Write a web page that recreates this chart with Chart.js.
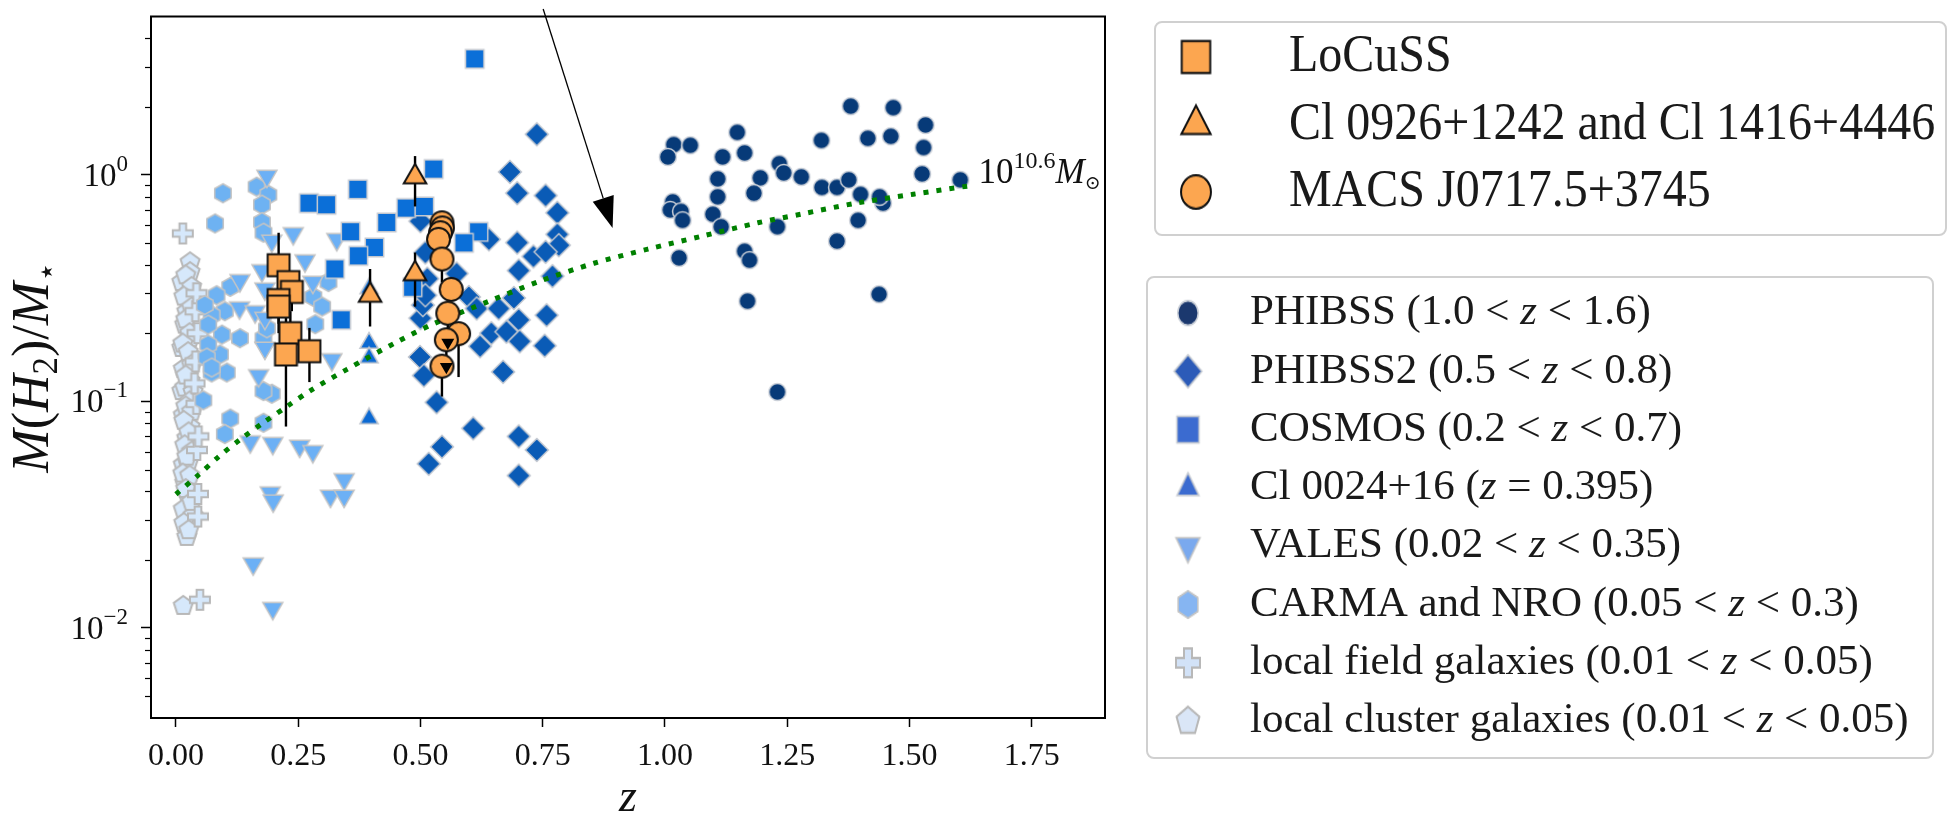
<!DOCTYPE html>
<html lang="en">
<head>
<meta charset="utf-8">
<title>Molecular gas fraction versus redshift</title>
<script src="https://cdn.jsdelivr.net/npm/chart.js"></script>
<style>
  html, body { margin: 0; padding: 0; background: #ffffff; }
  canvas { display: block; }
</style>
</head>
<body>
<canvas id="gas-fraction" width="1953" height="816"></canvas>
<script>
const SERIF = '"Liberation Serif", "DejaVu Serif", serif';

// axis limits and tick positions
const zRange = [-0.051, 1.9];
const fracRange = [0.004, 5];
const zTicks = [0, 0.25, 0.5, 0.75, 1.0, 1.25, 1.5, 1.75];
const fracMajorTicks = [0.01, 0.1, 1];
const fracMinorTicks = [0.005, 0.006, 0.007, 0.008, 0.009,
  0.02, 0.03, 0.04, 0.05, 0.06, 0.07, 0.08, 0.09,
  0.2, 0.3, 0.4, 0.5, 0.6, 0.7, 0.8, 0.9, 2, 3, 4];

// comparison samples, [z, M(H2)/M*]
const phibss = [
  [1.018, 1.36], [1.052, 1.35], [1.006, 1.20], [1.148, 1.54], [1.118, 1.20], [1.163, 1.25],
  [1.108, 0.96], [1.195, 0.97], [1.234, 1.12], [1.243, 1.02], [1.182, 0.83], [1.108, 0.80],
  [1.016, 0.76], [1.011, 0.70], [1.033, 0.69], [1.036, 0.63], [1.098, 0.67], [1.115, 0.59],
  [1.230, 0.59], [1.029, 0.43], [1.163, 0.46], [1.173, 0.42], [1.279, 0.98], [1.380, 2.01],
  [1.467, 1.98], [1.533, 1.66], [1.320, 1.42], [1.415, 1.45], [1.462, 1.48], [1.529, 1.32],
  [1.526, 1.01], [1.604, 0.95], [1.321, 0.88], [1.352, 0.88], [1.376, 0.95], [1.400, 0.82],
  [1.446, 0.75], [1.439, 0.80], [1.395, 0.63], [1.352, 0.51], [1.438, 0.297], [1.169, 0.277],
  [1.230, 0.110]
];
const phibss2 = [
  [0.738, 1.51], [0.683, 1.03], [0.698, 0.83], [0.756, 0.81], [0.780, 0.68], [0.780, 0.546],
  [0.783, 0.489], [0.698, 0.502], [0.731, 0.436], [0.756, 0.457], [0.701, 0.378], [0.770, 0.357],
  [0.640, 0.519], [0.500, 0.624], [0.574, 0.367], [0.514, 0.348], [0.599, 0.289], [0.615, 0.257],
  [0.691, 0.286], [0.660, 0.257], [0.701, 0.229], [0.758, 0.240], [0.500, 0.233], [0.645, 0.200],
  [0.622, 0.175], [0.676, 0.203], [0.703, 0.184], [0.754, 0.176], [0.499, 0.157], [0.507, 0.130],
  [0.669, 0.135], [0.533, 0.099], [0.608, 0.076], [0.544, 0.063], [0.517, 0.053], [0.701, 0.070],
  [0.738, 0.061], [0.701, 0.047], [0.505, 0.266], [0.510, 0.294], [0.510, 0.454]
];
const cosmos = [
  [0.611, 3.25], [0.527, 1.06], [0.372, 0.863], [0.272, 0.750], [0.308, 0.738], [0.471, 0.713],
  [0.508, 0.725], [0.431, 0.616], [0.357, 0.561], [0.406, 0.478], [0.373, 0.439], [0.325, 0.384],
  [0.619, 0.560], [0.589, 0.501], [0.338, 0.229], [0.484, 0.319]
];
const cl0024 = [[0.395, 0.315], [0.395, 0.181], [0.395, 0.156], [0.395, 0.084]];
const vales = [
  [0.186, 0.987], [0.240, 0.551], [0.329, 0.519], [0.196, 0.511], [0.264, 0.418], [0.176, 0.378],
  [0.131, 0.342], [0.182, 0.314], [0.280, 0.336], [0.130, 0.259], [0.162, 0.249], [0.182, 0.233],
  [0.319, 0.153], [0.169, 0.130], [0.182, 0.172], [0.152, 0.0664], [0.198, 0.0653], [0.253, 0.0635],
  [0.280, 0.0601], [0.344, 0.0452], [0.316, 0.0382], [0.344, 0.0382], [0.193, 0.0395], [0.199, 0.0364],
  [0.158, 0.0192], [0.198, 0.0122]
];
const carmaNro = [
  [0.096, 0.829], [0.165, 0.886], [0.189, 0.816], [0.176, 0.738], [0.080, 0.610], [0.176, 0.618],
  [0.179, 0.555], [0.111, 0.320], [0.083, 0.294], [0.312, 0.336], [0.281, 0.289], [0.299, 0.262],
  [0.285, 0.219], [0.100, 0.250], [0.073, 0.240], [0.131, 0.190], [0.094, 0.197], [0.090, 0.161],
  [0.104, 0.134], [0.073, 0.134], [0.179, 0.190], [0.186, 0.210], [0.196, 0.108], [0.179, 0.111],
  [0.111, 0.0839], [0.100, 0.0717], [0.179, 0.0804], [0.056, 0.101], [0.066, 0.178], [0.059, 0.266],
  [0.066, 0.218], [0.063, 0.156], [0.073, 0.141]
];
const fieldGalaxies = [
  [0.014, 0.551], [0.049, 0.0133], [0.045, 0.039], [0.045, 0.031], [0.043, 0.061], [0.042, 0.0975],
  [0.040, 0.15], [0.044, 0.20], [0.040, 0.25], [0.042, 0.30], [0.038, 0.12], [0.046, 0.07]
];
const clusterGalaxies = [
  [0.029, 0.411], [0.029, 0.372], [0.012, 0.336], [0.029, 0.304], [0.025, 0.275], [0.022, 0.249],
  [0.018, 0.218], [0.029, 0.190], [0.012, 0.172], [0.035, 0.156], [0.015, 0.139], [0.029, 0.123],
  [0.012, 0.111], [0.018, 0.115], [0.035, 0.110], [0.015, 0.0868], [0.029, 0.0772], [0.022, 0.0687],
  [0.015, 0.0525], [0.025, 0.0534], [0.018, 0.0437], [0.025, 0.0383], [0.015, 0.0334], [0.035, 0.0313],
  [0.022, 0.0252], [0.015, 0.0125], [0.020, 0.36], [0.032, 0.32], [0.016, 0.29], [0.032, 0.26],
  [0.020, 0.23], [0.028, 0.20], [0.014, 0.18], [0.025, 0.165], [0.032, 0.145], [0.020, 0.13],
  [0.028, 0.10], [0.020, 0.095], [0.032, 0.09], [0.016, 0.082], [0.026, 0.073], [0.018, 0.064],
  [0.032, 0.060], [0.022, 0.057], [0.014, 0.048], [0.028, 0.047], [0.020, 0.041], [0.032, 0.036],
  [0.016, 0.029], [0.026, 0.027]
];

// cluster members, with [low, high] error bars
const locuss = [
  [0.210, 0.399], [0.230, 0.336], [0.237, 0.304], [0.210, 0.280],
  [0.210, 0.262], [0.234, 0.200], [0.225, 0.161], [0.273, 0.1665]
];
const locussErr = [
  [0.245, 0.555], [0.26, 0.41], [0.25, 0.36], [0.22, 0.34],
  [0.20, 0.32], [0.15, 0.25], [0.0774, 0.245], [0.1216, 0.211]
];
const cl0926 = [[0.489, 0.98], [0.489, 0.366], [0.397, 0.294]];
const cl0926Err = [[0.725, 1.21], [0.262, 0.454], [0.214, 0.384]];
const macs = [
  [0.544, 0.614], [0.545, 0.583], [0.541, 0.555], [0.537, 0.519], [0.544, 0.425],
  [0.563, 0.312], [0.556, 0.245], [0.578, 0.199], [0.553, 0.187], [0.544, 0.143]
];
const macsErr = [null, null, null, null, [0.335, 0.425], null, [0.182, 0.245], [0.128, 0.199], [0.142, 0.187], [0.105, 0.143]];
const macsUpperLimit = [false, false, false, false, false, false, true, false, true, false];

// 10^10.6 Msun track
const massTrack = [
  [0.0, 0.0389], [0.0445, 0.0470], [0.088, 0.0571], [0.1326, 0.0682], [0.179, 0.0806],
  [0.227, 0.0949], [0.275, 0.1115], [0.350, 0.1385], [0.452, 0.183], [0.527, 0.220],
  [0.637, 0.275], [0.742, 0.338], [0.855, 0.407], [0.965, 0.470], [1.077, 0.537],
  [1.190, 0.614], [1.279, 0.671], [1.391, 0.750], [1.508, 0.821], [1.621, 0.893]
];
const arrowTail = [0.751, 5.4];
const arrowTip = [0.893, 0.583];

const markerStyles = {
  phibss:  { shape: 'circle', r: 8.5, fill: '#073a78', edge: '#cbd0d8', lw: 1.5, legendFill: '#1b386e' },
  phibss2: { shape: 'diamond', r: 11.5, fill: '#0a5bb6', edge: '#c3c8d0', lw: 1.5, legendFill: '#2c5bb8' },
  cosmos:  { shape: 'square', r: 13, fill: '#0b6fd8', edge: '#c3c8d0', lw: 1.5, legendFill: '#3b6bd0' },
  cl0024:  { shape: 'triangle', r: 10.5, fill: '#0b69d2', edge: '#c3c8d0', lw: 1.5, legendFill: '#3b6bd0' },
  vales:   { shape: 'triangleDown', r: 11.5, fill: '#6cb0f5', edge: '#c4c4c4', lw: 1.5, legendFill: '#7aa9ee' },
  carma:   { shape: 'hexagon', r: 9.5, fill: '#6eb2f2', edge: '#c4c4c4', lw: 1.5, legendFill: '#86b5f2' },
  field:   { shape: 'plus', r: 10, fill: '#d6e8fb', edge: '#b8b8b8', lw: 2, legendFill: '#d2e2f7' },
  cluster: { shape: 'pentagon', r: 10, fill: '#d6e8fb', edge: '#b8b8b8', lw: 2, legendFill: '#dae6f7' },
  locuss:  { shape: 'square', r: 15.5, fill: '#fca650', edge: '#111111', lw: 2, legendFill: '#fca650' },
  cl0926:  { shape: 'triangle', r: 13, fill: '#fca650', edge: '#111111', lw: 2, legendFill: '#fca650' },
  macs:    { shape: 'circle', r: 11.5, fill: '#fca650', edge: '#111111', lw: 2, legendFill: '#fca650' }
};

// legend frames (canvas pixels)
const legendBoxes = [
  { group: 1, left: 1155, top: 22, right: 1946, bottom: 235, markerX: 1196, textX: 1289,
    firstRow: 57, rowStep: 67.5, font: 48, stretch: 1.12, markerScale: 1.3 },
  { group: 2, left: 1147, top: 277, right: 1933, bottom: 758, markerX: 1188, textX: 1250,
    firstRow: 313, rowStep: 58.3, font: 43, stretch: 1.0, markerScale: 1.2, markerStretch: 1.2 }
];

function polygon(g, n, r, rot) {
  for (let i = 0; i < n; i++) {
    const a = rot + i * 2 * Math.PI / n;
    g.lineTo(r * Math.sin(a), -r * Math.cos(a));
  }
}

function markerPath(g, shape, r) {
  g.beginPath();
  switch (shape) {
    case 'circle': g.arc(0, 0, r, 0, 2 * Math.PI); break;
    case 'square': { const s = r * Math.SQRT1_2; g.rect(-s, -s, 2 * s, 2 * s); break; }
    case 'diamond': polygon(g, 4, r, 0); break;
    case 'triangle': polygon(g, 3, r, 0); break;
    case 'triangleDown': polygon(g, 3, r, Math.PI); break;
    case 'hexagon': polygon(g, 6, r, 0); break;
    case 'pentagon': polygon(g, 5, r, 0); break;
    case 'plus': {
      const a = r / 3;
      [[-a, -r], [a, -r], [a, -a], [r, -a], [r, a], [a, a], [a, r], [-a, r], [-a, a], [-r, a], [-r, -a], [-a, -a]]
        .forEach(([px, py]) => g.lineTo(px, py));
      break;
    }
  }
  g.closePath();
}

function markerImage(st, fill, scale) {
  const r = st.r * scale;
  const size = Math.ceil(2 * r + 2 * st.lw + 4);
  const c = document.createElement('canvas');
  c.width = size;
  c.height = size;
  const g = c.getContext('2d');
  g.translate(size / 2, size / 2);
  markerPath(g, st.shape, r);
  g.fillStyle = fill;
  g.fill();
  g.lineWidth = st.lw;
  g.strokeStyle = st.edge;
  g.stroke();
  return c;
}

function scatterSet(label, key, points, order, group, extra) {
  const st = markerStyles[key];
  return Object.assign({
    type: 'scatter',
    label, order,
    styleKey: key,
    legendGroup: group,
    data: points.map(([x, y]) => ({ x, y })),
    pointStyle: markerImage(st, st.fill, 1),
    pointRadius: st.r,
    pointHoverRadius: st.r
  }, extra || {});
}

const datasets = [
  scatterSet('LoCuSS', 'locuss', locuss, 2, 1, { errorBars: locussErr }),
  scatterSet('Cl 0926+1242 and Cl 1416+4446', 'cl0926', cl0926, 1, 1, { errorBars: cl0926Err }),
  scatterSet('MACS J0717.5+3745', 'macs', macs, 0, 1, { errorBars: macsErr, upperLimits: macsUpperLimit }),
  scatterSet('PHIBSS (1.0 < $z$ < 1.6)', 'phibss', phibss, 6, 2),
  scatterSet('PHIBSS2 (0.5 < $z$ < 0.8)', 'phibss2', phibss2, 5, 2),
  scatterSet('COSMOS (0.2 < $z$ < 0.7)', 'cosmos', cosmos, 4, 2),
  scatterSet('Cl 0024+16 ($z$ = 0.395)', 'cl0024', cl0024, 7, 2),
  scatterSet('VALES (0.02 < $z$ < 0.35)', 'vales', vales, 8, 2),
  scatterSet('CARMA and NRO (0.05 < $z$ < 0.3)', 'carma', carmaNro, 9, 2),
  scatterSet('local field galaxies (0.01 < $z$ < 0.05)', 'field', fieldGalaxies, 10, 2),
  scatterSet('local cluster galaxies (0.01 < $z$ < 0.05)', 'cluster', clusterGalaxies, 11, 2),
  {
    type: 'line',
    label: 'track',
    order: 3,
    data: massTrack.map(([x, y]) => ({ x, y })),
    borderColor: '#008000',
    borderWidth: 5,
    borderDash: [5, 8],
    borderCapStyle: 'butt',
    pointRadius: 0,
    fill: false,
    tension: 0.3
  }
];

function drawRich(ctx, label, x, y, size) {
  let cx = x;
  label.split('$').forEach((t, i) => {
    ctx.font = `${i % 2 ? 'italic ' : ''}${size}px ${SERIF}`;
    ctx.fillText(t, cx, y);
    cx += ctx.measureText(t).width;
  });
}

function drawSegments(ctx, segs, x, y) {
  let cx = x;
  segs.forEach(s => {
    ctx.font = `${s.italic ? 'italic ' : ''}${s.size}px ${SERIF}`;
    ctx.fillText(s.t, cx, y + (s.dy || 0));
    cx += ctx.measureText(s.t).width;
  });
  return cx - x;
}

function segmentsWidth(ctx, segs) {
  return segs.reduce((w, s) => {
    ctx.font = `${s.italic ? 'italic ' : ''}${s.size}px ${SERIF}`;
    return w + ctx.measureText(s.t).width;
  }, 0);
}

function roundedBox(ctx, b, r) {
  ctx.beginPath();
  ctx.moveTo(b.left + r, b.top);
  ctx.arcTo(b.right, b.top, b.right, b.bottom, r);
  ctx.arcTo(b.right, b.bottom, b.left, b.bottom, r);
  ctx.arcTo(b.left, b.bottom, b.left, b.top, r);
  ctx.arcTo(b.left, b.top, b.right, b.top, r);
  ctx.closePath();
}

const annotations = {
  id: 'annotations',
  beforeDatasetDraw(chart, args) {
    const ds = chart.data.datasets[args.index];
    if (!ds.errorBars) return;
    const { ctx, scales: { x, y } } = chart;
    ctx.save();
    ctx.strokeStyle = '#000';
    ctx.lineWidth = 2.4;
    ds.data.forEach((p, i) => {
      const e = ds.errorBars[i];
      if (!e) return;
      const px = x.getPixelForValue(p.x);
      ctx.beginPath();
      ctx.moveTo(px, y.getPixelForValue(e[0]));
      ctx.lineTo(px, y.getPixelForValue(e[1]));
      ctx.stroke();
      if (ds.upperLimits && ds.upperLimits[i]) {
        const py = y.getPixelForValue(e[1]);
        ctx.beginPath();
        ctx.moveTo(px - 6, py);
        ctx.lineTo(px + 6, py);
        ctx.stroke();
      }
    });
    ctx.restore();
  },
  afterDatasetDraw(chart, args) {
    const ds = chart.data.datasets[args.index];
    if (!ds.upperLimits) return;
    const { ctx, scales: { x, y } } = chart;
    ctx.save();
    ctx.fillStyle = '#000';
    ds.data.forEach((p, i) => {
      if (!ds.upperLimits[i]) return;
      ctx.save();
      ctx.translate(x.getPixelForValue(p.x), y.getPixelForValue(ds.errorBars[i][0]));
      markerPath(ctx, 'triangleDown', 7.5);
      ctx.fill();
      ctx.restore();
    });
    ctx.restore();
  },
  afterDraw(chart) {
    const { ctx, chartArea: area, scales: { x, y } } = chart;
    ctx.save();

    // axes frame
    ctx.strokeStyle = '#000';
    ctx.lineWidth = 2;
    ctx.strokeRect(area.left, area.top, area.right - area.left, area.bottom - area.top);

    // minor log ticks
    ctx.lineWidth = 1.2;
    fracMinorTicks.forEach(v => {
      const py = Math.round(y.getPixelForValue(v)) + 0.5;
      ctx.beginPath();
      ctx.moveTo(area.left - 6, py);
      ctx.lineTo(area.left, py);
      ctx.stroke();
    });

    // decade labels with superscript exponents
    ctx.fillStyle = '#111';
    ctx.textAlign = 'left';
    ctx.textBaseline = 'alphabetic';
    fracMajorTicks.forEach(v => {
      const py = y.getPixelForValue(v);
      const exp = String(Math.round(Math.log10(v))).replace('-', '\u2212');
      const segs = [{ t: '10', size: 33 }, { t: exp, size: 23, dy: -15 }];
      const w = segmentsWidth(ctx, segs);
      drawSegments(ctx, segs, area.left - 23 - w, py + 11);
    });

    // axis titles
    ctx.font = `italic 46px ${SERIF}`;
    ctx.textAlign = 'center';
    ctx.fillText('z', (area.left + area.right) / 2, 811);

    const ylab = [
      { t: 'M', size: 52, italic: true }, { t: '(', size: 52 }, { t: 'H', size: 52, italic: true },
      { t: '2', size: 35, dy: 9 }, { t: ')', size: 52 }, { t: '/', size: 52 },
      { t: 'M', size: 52, italic: true }, { t: '\u22c6', size: 32, dy: 9 }
    ];
    ctx.textAlign = 'left';
    const yw = segmentsWidth(ctx, ylab);
    ctx.save();
    ctx.translate(48, (area.top + area.bottom) / 2);
    ctx.rotate(-Math.PI / 2);
    drawSegments(ctx, ylab, -yw / 2, 0);
    ctx.restore();

    // label at the end of the mass track
    const end = massTrack[massTrack.length - 1];
    const ex = x.getPixelForValue(end[0]) + 10;
    const ey = y.getPixelForValue(end[1]) - 3;
    drawSegments(ctx, [
      { t: '10', size: 35 }, { t: '10.6', size: 24, dy: -15 },
      { t: 'M', size: 35, italic: true }, { t: '\u2299', size: 19, dy: 6 }
    ], ex, ey);

    // arrow pointing at the track
    const tx = x.getPixelForValue(arrowTail[0]), ty = y.getPixelForValue(arrowTail[1]);
    const hx = x.getPixelForValue(arrowTip[0]), hy = y.getPixelForValue(arrowTip[1]);
    const ang = Math.atan2(hy - ty, hx - tx);
    const headLen = 31, headHalf = 11;
    const bx = hx - headLen * Math.cos(ang), by = hy - headLen * Math.sin(ang);
    ctx.strokeStyle = '#000';
    ctx.lineWidth = 1.3;
    ctx.beginPath();
    ctx.moveTo(tx, ty);
    ctx.lineTo(bx, by);
    ctx.stroke();
    ctx.fillStyle = '#000';
    ctx.beginPath();
    ctx.moveTo(hx, hy);
    ctx.lineTo(bx + headHalf * Math.sin(ang), by - headHalf * Math.cos(ang));
    ctx.lineTo(bx - headHalf * Math.sin(ang), by + headHalf * Math.cos(ang));
    ctx.closePath();
    ctx.fill();

    // legends
    legendBoxes.forEach(box => {
      roundedBox(ctx, box, 7);
      ctx.fillStyle = '#ffffff';
      ctx.fill();
      ctx.strokeStyle = '#d0d0d0';
      ctx.lineWidth = 2;
      ctx.stroke();
      const rows = chart.data.datasets.filter(d => d.legendGroup === box.group);
      rows.forEach((d, i) => {
        const rowY = box.firstRow + i * box.rowStep;
        const st = markerStyles[d.styleKey];
        const img = markerImage(st, st.legendFill, box.markerScale);
        const k = box.markerStretch || box.stretch;
        ctx.drawImage(img, box.markerX - img.width / 2, rowY - img.height * k / 2, img.width, img.height * k);
        ctx.save();
        ctx.translate(box.textX, rowY);
        ctx.scale(1, box.stretch);
        ctx.fillStyle = '#1a1a1a';
        ctx.textAlign = 'left';
        ctx.textBaseline = 'middle';
        drawRich(ctx, d.label, 0, 0, box.font);
        ctx.restore();
      });
    });

    ctx.restore();
  }
};

new Chart(document.getElementById('gas-fraction'), {
  type: 'scatter',
  data: { datasets },
  options: {
    responsive: false,
    animation: false,
    devicePixelRatio: 1,
    events: [],
    layout: { padding: { left: 0, top: 9, right: 848, bottom: 0 } },
    plugins: { legend: { display: false }, tooltip: { enabled: false } },
    scales: {
      x: {
        type: 'linear',
        min: zRange[0],
        max: zRange[1],
        bounds: 'data',
        afterBuildTicks: s => { s.ticks = zTicks.map(v => ({ value: v })); },
        afterFit: s => { s.height = 98; },
        ticks: {
          autoSkip: false, maxRotation: 0, padding: 10, color: '#111',
          font: { family: SERIF, size: 32 },
          callback: v => Number(v).toFixed(2)
        },
        grid: { drawOnChartArea: false, tickLength: 9, tickWidth: 1.5, tickColor: '#000' },
        border: { color: '#000', width: 2 }
      },
      y: {
        type: 'logarithmic',
        min: fracRange[0],
        max: fracRange[1],
        afterBuildTicks: s => {
          s.ticks = fracMinorTicks.map(v => ({ value: v, major: false }))
            .concat(fracMajorTicks.map(v => ({ value: v, major: true })))
            .sort((a, b) => a.value - b.value);
        },
        afterFit: s => { s.width = 151; },
        ticks: { display: false },
        grid: {
          drawOnChartArea: false, tickLength: 10, tickWidth: 1.5,
          tickColor: c => (c.tick && c.tick.major) ? '#000' : 'rgba(0,0,0,0)'
        },
        border: { color: '#000', width: 2 }
      }
    }
  },
  plugins: [annotations]
});
</script>
</body>
</html>
